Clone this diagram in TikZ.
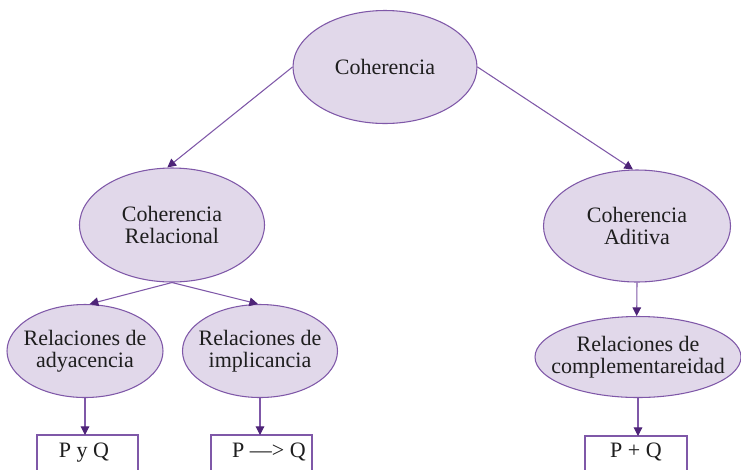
\documentclass[tikz,border=0pt]{standalone}
\usepackage{fontspec}
\setmainfont{Liberation Serif}
\usetikzlibrary{shapes.geometric,arrows.meta}
\definecolor{ellfill}{HTML}{E1D8EA}
\definecolor{ellline}{HTML}{7F58A8}
\definecolor{tipcol}{HTML}{4E2478}
\definecolor{txt}{HTML}{1E1E1E}
\tikzset{
  oval/.style={ellipse, draw=ellline, fill=ellfill, line width=0.8pt, inner sep=0pt},
  ovaltext/.style={inner sep=0pt, align=center, text=txt, font=\fontsize{16.5}{16.5}\selectfont},
  resbox/.style={draw=ellline, fill=white, line width=0.9pt},
  boxtext/.style={text=txt, font=\fontsize{16.5}{16.5}\selectfont, inner sep=0pt, anchor=base},
  conn/.style={draw=ellline, line width=0.8pt, -{Triangle[length=6.5pt,width=6.5pt,fill=tipcol,color=tipcol]}},
}
\begin{document}
\begin{tikzpicture}[x=0.75pt,y=-0.75pt]
\useasboundingbox (0,0) rectangle (741,469);
\clip (0,0) rectangle (741,469);
\node[oval, minimum width=138pt, minimum height=84.75pt] (top) at (385,67) {};
\node[ovaltext] (topt) at (top) {Coherencia};
\node[oval, minimum width=138.75pt, minimum height=85.5pt] (rel) at (172,225) {};
\node[ovaltext] (relt) at (rel) {Coherencia\\Relacional};
\node[oval, minimum width=140.25pt, minimum height=84pt] (adit) at (637,226) {};
\node[ovaltext] (aditt) at (adit) {Coherencia\\Aditiva};
\node[oval, minimum width=117pt, minimum height=69.75pt] (ady) at (85,351) {};
\node[ovaltext] (adyt) at (ady) {Relaciones de\\adyacencia};
\node[oval, minimum width=116.25pt, minimum height=69.75pt] (imp) at (260,351) {};
\node[ovaltext] (impt) at (imp) {Relaciones de\\implicancia};
\node[oval, minimum width=154.5pt, minimum height=60.75pt] (comp) at (638,357) {};
\node[ovaltext] (compt) at (comp) {Relaciones de\\complementareidad};
\draw[resbox] (37,490) |- (138,435) -- (138,490);
\coordinate (b1) at (87.5,435);
\draw[resbox] (211,490) |- (312,435) -- (312,490);
\coordinate (b2) at (261.5,435);
\draw[resbox] (585,490) |- (687,436) -- (687,490);
\coordinate (b3) at (636,436);
\node[boxtext] (t1) at (84,457) {P y Q};
\node[boxtext] (t2) at (269,457) {P —> Q};
\node[boxtext] (t3) at (636,457) {P + Q};
\draw[conn] (top.west) -- ([xshift=-3.5pt]rel.north);
\draw[conn] (top.east) -- ([xshift=-3pt]adit.north);
\draw[conn] (rel.south) -- ([xshift=3.5pt]ady.north);
\draw[conn] (rel.south) -- ([xshift=-1.5pt]imp.north);
\draw[conn] (adit.south) -- ([xshift=-1pt]comp.north);
\draw[conn] (ady.south) -- (ady.south |- b1);
\draw[conn] (imp.south) -- (imp.south |- b2);
\draw[conn] (comp.south) -- (comp.south |- b3);
\end{tikzpicture}
\end{document}
